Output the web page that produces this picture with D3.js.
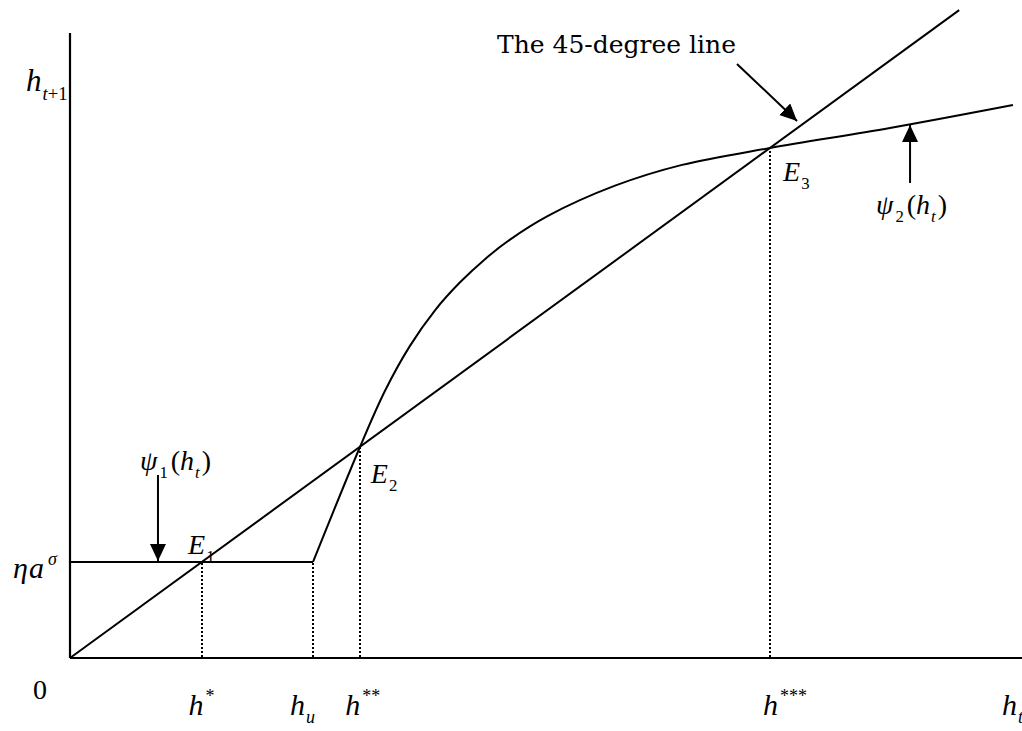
<!DOCTYPE html>
<html>
<head>
<meta charset="utf-8">
<script src="https://cdn.jsdelivr.net/npm/d3@7"></script>
<style>
  body { margin: 0; background: #fff; }
  svg { display: block; }
</style>
</head>
<body>
<svg id="chart" width="1022" height="731"></svg>
<script>
// values, in "h units" (the 45-degree line is y = x)
const xMax = 100;
const yMax = 90.1;
const floorLevel = 13.85;          // eta a^sigma
const hStar = 13.87, hU = 25.53, hStar2 = 30.46, hStar3 = 73.53;

const diagonal = [[0, 0], [93.4, 93.4]];
const psi1 = [[0, floorLevel], [hU, floorLevel]];
const psi2 = [[hU, floorLevel], [30.46, 30.42], [33.09, 38.53], [35.71, 45.0],
              [38.34, 50.13], [40.97, 54.16], [43.59, 57.5], [46.22, 60.32],
              [50.21, 63.74], [57.25, 68.09], [64.29, 71.09], [73.53, 73.52],
              [86.13, 76.41], [99.05, 79.72]];

// dotted guides from the axis up to each crossing
const guides = [[hStar, floorLevel], [hU, floorLevel], [hStar2, hStar2], [hStar3, hStar3]];

// x axis labels: [left edge, sub, sup]
const xLabels = [[12.45, "", "*"], [23.1, "u", ""], [28.9, "", "**"],
                 [72.8, "", "***"], [97.9, "t", ""]];

// equilibrium labels: [left edge, baseline, index]
const eqLabels = [[12.4, 15.0, "1"], [31.6, 25.2, "2"], [74.9, 68.8, "3"]];

// annotation arrows: [from, to]
const arrows = [[[70.06, 85.64], [76.37, 77.42]],
                [[88.24, 68.48], [88.24, 76.85]],
                [[9.24, 26.38], [9.24, 13.98]]];

const svg = d3.select("#chart");
const x = d3.scaleLinear().domain([0, xMax]).range([70, 1022]);
const y = d3.scaleLinear().domain([0, yMax]).range([658, 33]);

const line = d3.line().x(d => x(d[0])).y(d => y(d[1]));

// axes
svg.append("line").attr("x1", x(0)).attr("y1", y(0)).attr("x2", x(0)).attr("y2", y(yMax))
  .attr("stroke", "#000").attr("stroke-width", 2.2);
svg.append("line").attr("x1", x(0)).attr("y1", y(0)).attr("x2", x(xMax)).attr("y2", y(0))
  .attr("stroke", "#000").attr("stroke-width", 2.2);

// dotted guides
svg.selectAll(".guide").data(guides).enter().append("line")
  .attr("class", "guide")
  .attr("x1", d => Math.round(x(d[0]))).attr("x2", d => Math.round(x(d[0])))
  .attr("y1", y(0) - 1).attr("y2", d => y(d[1]))
  .attr("stroke", "#000").attr("stroke-width", 1.6)
  .attr("shape-rendering", "crispEdges")
  .attr("stroke-dasharray", "2,2");

// curves
svg.append("path").datum(diagonal).attr("d", line)
  .attr("fill", "none").attr("stroke", "#000").attr("stroke-width", 2);
svg.append("path").datum(psi1).attr("d", line)
  .attr("fill", "none").attr("stroke", "#000").attr("stroke-width", 2);
svg.append("path").datum(psi2).attr("d", line.curve(d3.curveCatmullRom.alpha(0.5)))
  .attr("fill", "none").attr("stroke", "#000").attr("stroke-width", 2);

// arrows
svg.append("defs").append("marker")
  .attr("id", "head").attr("markerUnits", "userSpaceOnUse")
  .attr("markerWidth", 20).attr("markerHeight", 18)
  .attr("refX", 17).attr("refY", 8).attr("orient", "auto")
  .append("path").attr("d", "M0,0 L17,8 L0,16 Z").attr("fill", "#000");

svg.selectAll(".arrow").data(arrows).enter().append("line")
  .attr("x1", d => x(d[0][0])).attr("y1", d => y(d[0][1]))
  .attr("x2", d => x(d[1][0])).attr("y2", d => y(d[1][1]))
  .attr("stroke", "#000").attr("stroke-width", 2)
  .attr("marker-end", "url(#head)");

// math text helper: parts = [text, italic, shift] shift: 0 base, 1 sup, -1 sub
function math(px, py, parts, size) {
  const t = svg.append("text").attr("x", px).attr("y", py)
    .attr("font-family", "Liberation Serif").attr("font-size", size);
  let cur = 0;
  parts.forEach(p => {
    const target = p[2] == 1 ? -0.45 * size : p[2] == -1 ? 0.28 * size : 0;
    t.append("tspan").text(p[0])
      .attr("font-style", p[1] ? "italic" : "normal")
      .attr("font-size", p[2] ? size * 0.6 : size)
      .attr("dx", p[3] || 0)
      .attr("dy", target - cur);
    cur = target;
  });
  return t;
}

const fs = 30;
math(26, 91, [["h", true, 0], ["t", true, -1, 1], ["+1", false, -1]], 31);
math(13, 578, [["η", true, 0], ["a", true, 0, 1], ["σ", true, 1, 4]], fs);
svg.append("text").attr("x", 40).attr("y", 699)
  .attr("font-family", "Liberation Serif")
  .attr("text-anchor", "middle").attr("font-size", fs - 2).text("0");

xLabels.forEach(d => {
  const parts = [["h", true, 0]];
  if (d[1]) parts.push([d[1], true, -1, 1]);
  if (d[2]) parts.push([d[2], false, 1, 2]);
  math(x(d[0]), 715, parts, fs);
});

eqLabels.forEach(d => {
  math(x(d[0]), y(d[1]), [["E", true, 0], [d[2], false, -1, 1]], fs - 2);
});

const psiParts = k => [["ψ", true, 0], [k, false, -1, 2], ["(", false, 0, 3], ["h", true, 0],
                       ["t", true, -1, 1], [")", false, 0, 2]];
math(140, 470, psiParts("1"), fs - 2);
math(876, 214, psiParts("2"), fs - 2);

svg.append("text").attr("x", 497).attr("y", 53)
  .attr("font-family", "DejaVu Serif").attr("font-size", 25)
  .text("The 45-degree line");
</script>
</body>
</html>
